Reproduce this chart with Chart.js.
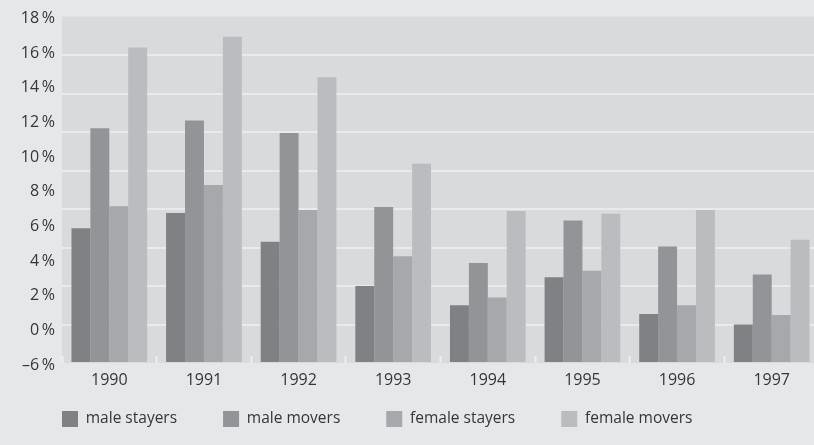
<!DOCTYPE html>
<html>
<head>
<meta charset="utf-8">
<script src="https://cdn.jsdelivr.net/npm/chart.js@4.4.1/dist/chart.umd.min.js"></script>
<style>
  html, body { margin: 0; padding: 0; overflow: hidden; background: #e6e7e8; }
  #wrap { position: relative; width: 819px; height: 445px; }
</style>
</head>
<body>
<div id="wrap"><canvas id="c"></canvas></div>
<script>
// ---- data ----
const years = ['1990', '1991', '1992', '1993', '1994', '1995', '1996', '1997'];
const seriesNames = ['male stayers', 'male movers', 'female stayers', 'female movers'];
const maleStayers   = [7.0, 7.8, 6.3, 4.0, 3.0, 4.45, 2.55, 2.0];
const maleMovers    = [12.2, 12.6, 11.95, 8.1, 5.2, 7.4, 6.05, 4.6];
const femaleStayers = [8.15, 9.25, 7.95, 5.55, 3.4, 4.8, 3.0, 2.5];
const femaleMovers  = [16.4, 16.95, 14.85, 10.35, 7.9, 7.75, 7.95, 6.4];
// tick labels of the left axis, bottom to top
const yTickLabels = ['–6\u2009%', '0\u2009%', '2\u2009%', '4\u2009%', '6\u2009%', '8\u2009%', '10\u2009%', '12\u2009%', '14\u2009%', '16\u2009%', '18\u2009%'];

const colors = ['#808184', '#939497', '#a7a8ab', '#bbbcbf'];
const textColor = '#363636';

Chart.defaults.font.family = "'Open Sans', sans-serif";
Chart.defaults.font.size = 16;
Chart.defaults.color = textColor;

const plotBg = {
  id: 'plotBg',
  beforeDraw(chart) {
    const a = chart.chartArea, ctx = chart.ctx;
    ctx.save();
    ctx.fillStyle = '#d9dadc';
    ctx.fillRect(a.left, a.top, a.right - a.left, a.bottom - a.top);
    ctx.restore();
  }
};

const legendPlace = {
  id: 'legendPlace',
  afterLayout(chart) {
    const lg = chart.legend;
    const pad = lg.options.labels.padding;
    lg.left = chart.chartArea.left - pad;
    lg.top = chart.scales.x.top + 2;
    lg.bottom = chart.height;
    lg.height = lg.bottom - lg.top;
  }
};

const allSeries = [maleStayers, maleMovers, femaleStayers, femaleMovers];

new Chart(document.getElementById('c'), {
  type: 'bar',
  data: {
    labels: years,
    datasets: allSeries.map((d, i) => ({
      label: seriesNames[i],
      data: d,
      backgroundColor: colors[i],
      borderWidth: 0,
      yAxisID: 'y'
    }))
  },
  options: {
    responsive: true,
    maintainAspectRatio: false,
    animation: false,
    layout: { padding: { top: 15, left: 0, right: 0, bottom: 0 } },
    datasets: { bar: { barPercentage: 1.0, categoryPercentage: 0.8 } },
    plugins: {
      tooltip: { enabled: false },
      legend: {
        position: 'bottom',
        align: 'start',
        maxHeight: 56,
        labels: {
          boxWidth: 16,
          boxHeight: 16,
          padding: 46,
          color: textColor,
          font: { size: 15.5 }
        }
      }
    },
    scales: {
      x: {
        type: 'category',
        afterFit(s) { s.height = 26; },
        border: { display: false },
        grid: {
          display: true,
          offset: true,
          drawOnChartArea: false,
          drawTicks: true,
          tickLength: -7,
          tickColor: '#eeeeef',
          tickWidth: 2
        },
        ticks: { padding: 15, color: textColor, font: { size: 16 }, maxRotation: 0 }
      },
      y: {
        type: 'linear',
        position: 'left',
        min: 0,
        max: 18,
        weight: 1,
        afterFit(s) { s.width = 0; },
        border: { display: false },
        ticks: { display: false, stepSize: 2 },
        grid: {
          drawTicks: false,
          lineWidth: 2,
          color: (c) => (c.tick && (c.tick.value === 0 || c.tick.value === 18)) ? 'rgba(0,0,0,0)' : '#e9eaeb'
        }
      },
      yl: {
        type: 'linear',
        position: 'left',
        min: 0.057,
        max: 10.057,
        weight: 2,
        afterFit(s) { s.width = 62; },
        afterBuildTicks(s) { s.ticks = yTickLabels.map((t, i) => ({ value: i })); },
        border: { display: false },
        grid: { display: false, drawTicks: false },
        ticks: {
          padding: 7,
          color: textColor,
          font: { size: 16 },
          callback: (v) => yTickLabels[Math.round(v)]
        }
      }
    }
  },
  plugins: [plotBg, legendPlace]
});
</script>
</body>
</html>
